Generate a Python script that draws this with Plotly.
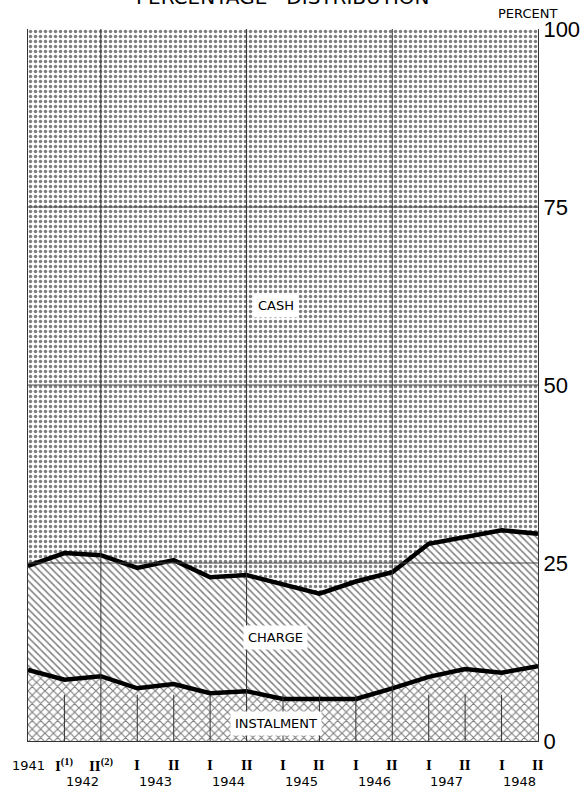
import plotly.graph_objects as go

# ---- data (percent of sales) ----
periods = ["1941", "1942 I", "1942 II", "1943 I", "1943 II", "1944 I", "1944 II",
           "1945 I", "1945 II", "1946 I", "1946 II", "1947 I", "1947 II", "1948 I", "1948 II"]
instalment = [10.0, 8.6, 9.1, 7.4, 8.0, 6.7, 7.0, 5.9, 5.9, 5.9, 7.4, 9.0, 10.1, 9.6, 10.5]
charge = [14.6, 17.8, 17.0, 16.9, 17.4, 16.3, 16.3, 16.1, 14.8, 16.5, 16.3, 18.7, 18.6, 20.0, 18.6]
cash = [75.4, 73.6, 73.9, 75.7, 74.6, 77.0, 76.7, 78.0, 79.3, 77.6, 76.3, 72.3, 71.3, 70.4, 70.9]

row1_labels = ["1941", "I<sup>(1)</sup>", "II<sup>(2)</sup>", "I", "II", "I", "II", "I", "II",
               "I", "II", "I", "II", "I", "II"]
year_labels = ["1942", "1943", "1944", "1945", "1946", "1947", "1948"]
y_ticks = [0, 25, 50, 75, 100]

x = list(range(len(periods)))
inst_top = instalment
charge_top = [a + b for a, b in zip(instalment, charge)]
cash_top = [a + b for a, b in zip(charge_top, cash)]

fig = go.Figure()
fig.add_trace(go.Scatter(
    x=x, y=inst_top, mode="lines", line=dict(width=0, color="black"),
    fill="tozeroy", fillcolor="white",
    fillpattern=dict(shape="x", size=6, solidity=0.35, fgcolor="black", bgcolor="white"),
    hoverinfo="skip", showlegend=False))
fig.add_trace(go.Scatter(
    x=x, y=charge_top, mode="lines", line=dict(width=0, color="black"),
    fill="tonexty", fillcolor="white",
    fillpattern=dict(shape="\\", size=5, solidity=0.3, fgcolor="black", bgcolor="white"),
    hoverinfo="skip", showlegend=False))
fig.add_trace(go.Scatter(
    x=x, y=cash_top, mode="lines", line=dict(width=0, color="black"),
    fill="tonexty", fillcolor="white",
    fillpattern=dict(shape=".", size=5, solidity=0.38, fgcolor="black", bgcolor="white"),
    hoverinfo="skip", showlegend=False))
# boundary lines
fig.add_trace(go.Scatter(x=x, y=inst_top, mode="lines",
                         line=dict(width=4.5, color="black"), hoverinfo="skip", showlegend=False))
fig.add_trace(go.Scatter(x=x, y=charge_top, mode="lines",
                         line=dict(width=4.5, color="black"), hoverinfo="skip", showlegend=False))

shapes = []
# horizontal grid
for v in [25, 50, 75]:
    shapes.append(dict(type="line", xref="paper", x0=0, x1=1, yref="y", y0=v, y1=v,
                       line=dict(color="#444", width=1), layer="above"))
# vertical grid and small ticks
for i in range(1, len(periods) - 1):
    top = 100 if i in (2, 6, 10) else 6.5
    shapes.append(dict(type="line", xref="x", x0=i, x1=i, yref="y", y0=0, y1=top,
                       line=dict(color="#333", width=1), layer="above"))

annotations = []
for i, lab in enumerate(row1_labels):
    if i == 0:
        font = dict(family="DejaVu Sans", size=13, color="black")
    else:
        font = dict(family="Liberation Serif", size=15, color="black", weight="bold")
    annotations.append(dict(x=i, y=0, xref="x", yref="paper", yshift=-24, yanchor="middle",
                            text=lab, showarrow=False, font=font))
for k, lab in enumerate(year_labels):
    annotations.append(dict(x=2 * k + 1.5, y=0, xref="x", yref="paper", yshift=-40,
                            yanchor="middle", text=lab, showarrow=False,
                            font=dict(family="DejaVu Sans", size=13, color="black")))

for text, xi, yi in [("CASH", 6.8, 61.2), ("CHARGE", 6.8, 14.5), ("INSTALMENT", 6.8, 2.4)]:
    annotations.append(dict(x=xi, y=yi, xref="x", yref="y", text=text, showarrow=False,
                            bgcolor="white", borderpad=4,
                            font=dict(family="DejaVu Sans", size=13, color="black")))

annotations.append(dict(x=0.5, y=1, xref="paper", yref="paper", yshift=32, yanchor="middle",
                        text="PERCENTAGE   DISTRIBUTION", showarrow=False,
                        font=dict(family="DejaVu Sans", size=20, color="black")))
annotations.append(dict(x=1.0, y=1, xref="paper", yref="paper", yshift=16, xshift=-42,
                        xanchor="left", yanchor="middle", text="PERCENT", showarrow=False,
                        font=dict(family="DejaVu Sans", size=13, color="black")))

fig.update_layout(
    width=581, height=789,
    margin=dict(l=28, r=43, t=29, b=48, autoexpand=False),
    paper_bgcolor="white", plot_bgcolor="white",
    xaxis=dict(range=[0, 14], showgrid=False, zeroline=False, showticklabels=False,
               showline=True, linecolor="#333", linewidth=1, automargin=False),
    yaxis=dict(range=[0, 100], side="right", tickvals=y_ticks, showgrid=False, zeroline=False,
               showline=True, mirror=True, linecolor="#333", linewidth=1, automargin=False,
               tickfont=dict(family="Liberation Sans Narrow, Liberation Sans", size=22, color="black"),
               ticks=""),
    shapes=shapes, annotations=annotations,
)

fig.write_html("out.html", config={"displayModeBar": False},
               post_script="document.body.style.margin='0';")
